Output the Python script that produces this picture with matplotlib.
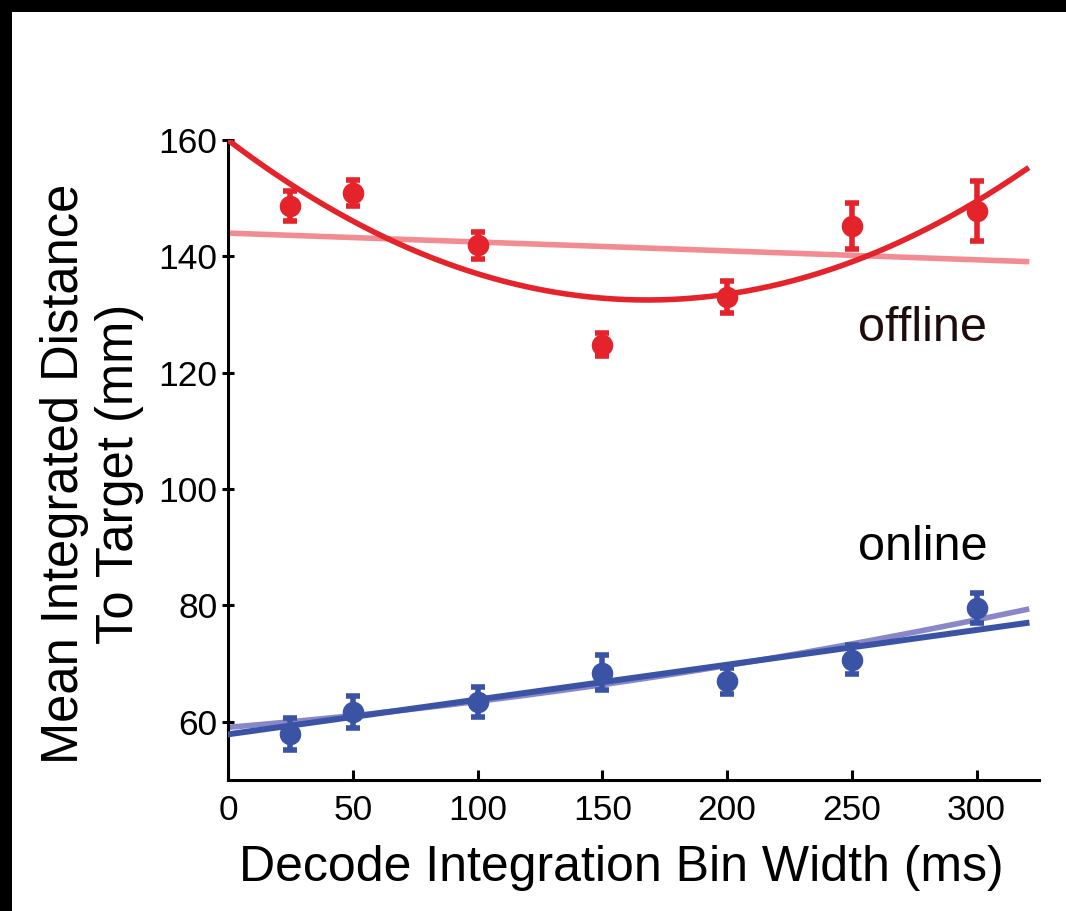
import numpy as np
import matplotlib
matplotlib.use("Agg")
import matplotlib.pyplot as plt
from matplotlib.patches import Rectangle

plt.rcParams['font.family'] = ['Liberation Sans', 'DejaVu Sans']

# bin widths (ms)
bin_width = [25, 50, 100, 150, 200, 250, 300]

# offline: mean integrated distance (mm) and error
offline_mean = [148.6, 150.9, 141.9, 124.8, 133.0, 145.2, 147.8]
offline_err = [2.6, 2.3, 2.3, 2.0, 2.7, 3.9, 5.2]

# online
online_mean = [57.9, 61.7, 63.4, 68.4, 67.0, 70.7, 79.6]
online_err = [2.8, 2.8, 2.5, 3.0, 2.3, 2.5, 2.6]

# fitted curves (polynomial coefficients, highest power first)
offline_quad = [0.000974, -0.3273, 160.0]
offline_lin = [-0.0153, 144.0]
online_quad = [0.000085, 0.0361, 59.05]
online_lin = [0.0598, 57.85]

RED = '#e4232b'
PINK = '#f28c92'
BLUE = '#3a53a5'
LAVENDER = '#8a87c8'

fig = plt.figure(figsize=(10.66, 9.11), dpi=100, facecolor='black')
fig.patches.append(Rectangle((12 / 1066, 0), 1, 1 - 12 / 911,
                             transform=fig.transFigure, facecolor='white',
                             edgecolor='none', zorder=-10))

ax = fig.add_axes([228 / 1066, 1 - 780 / 911, (1039 - 228) / 1066, 640 / 911])
ax.set_facecolor('white')
ax.set_zorder(2)

xs = np.linspace(0, 320, 200)
ax.plot(xs, np.polyval(offline_lin, xs), color=PINK, lw=4, zorder=2)
ax.plot(xs, np.polyval(offline_quad, xs), color=RED, lw=4, zorder=3)
ax.plot(xs, np.polyval(online_quad, xs), color=LAVENDER, lw=4, zorder=2)
ax.plot(xs, np.polyval(online_lin, xs), color=BLUE, lw=4.3, zorder=3)

ax.errorbar(bin_width, offline_mean, yerr=offline_err, fmt='o', color=RED,
            ms=14.5, elinewidth=4, capsize=5, capthick=4, zorder=4)
ax.errorbar(bin_width, online_mean, yerr=online_err, fmt='o', color=BLUE,
            ms=14.5, elinewidth=4, capsize=5, capthick=4, zorder=4)

ax.text(0.777, 0.706, 'offline', transform=ax.transAxes, fontsize=35,
        color='#1e0c0c', ha='left', va='center')
ax.text(0.777, 0.3625, 'online', transform=ax.transAxes, fontsize=35,
        color='black', ha='left', va='center')

ax.set_xlim(0, 325)
ax.set_ylim(50, 160)
ax.set_xticks([0, 50, 100, 150, 200, 250, 300])
ax.set_yticks([60, 80, 100, 120, 140, 160])
ax.spines['top'].set_visible(False)
ax.spines['right'].set_visible(False)
for s in ['left', 'bottom']:
    ax.spines[s].set_linewidth(2.2)
ax.tick_params(axis='x', direction='in', length=7, width=2.2, labelsize=25.5, pad=10)
ax.tick_params(axis='y', direction='inout', length=9, width=2.2, labelsize=25.5, pad=3)

fig.text(621 / 1066, 1 - 868 / 911, 'Decode Integration Bin Width (ms)',
         fontsize=36, ha='center', va='center')
fig.text(92 / 1066, 1 - 474 / 911, 'Mean Integrated Distance\nTo Target (mm)',
         fontsize=36.5, ha='center', va='center', rotation=90, linespacing=1.15)

fig.savefig('out.png', dpi=100, facecolor=fig.get_facecolor())
